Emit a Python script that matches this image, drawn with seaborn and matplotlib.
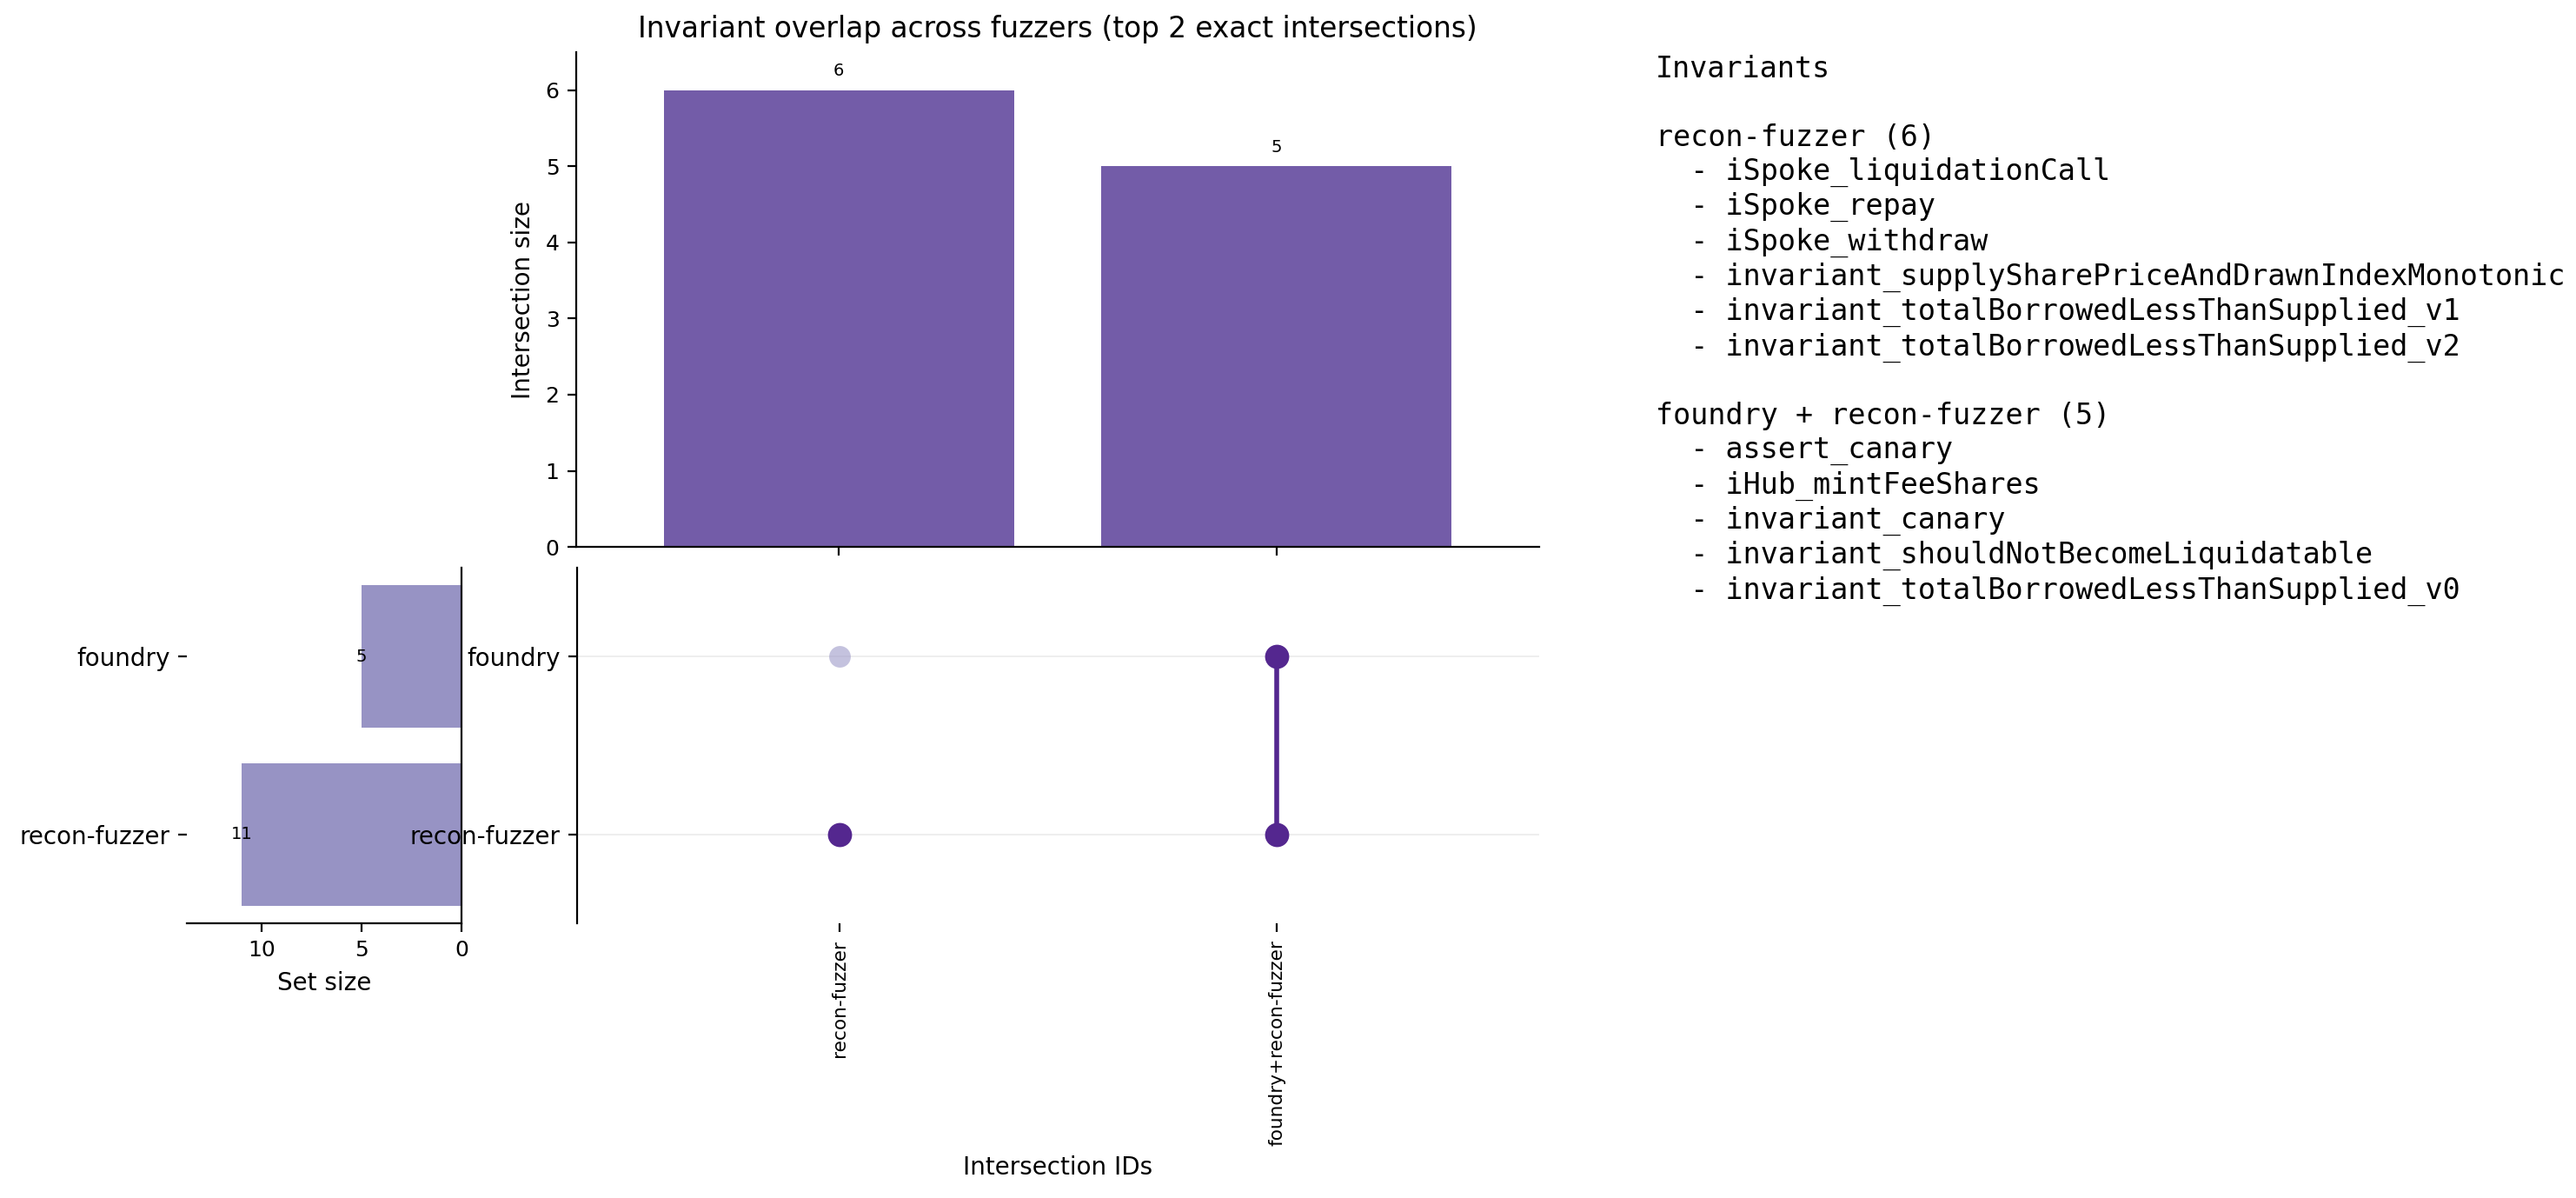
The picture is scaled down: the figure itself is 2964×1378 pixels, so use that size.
import numpy as np
import pandas as pd
import seaborn as sns
import matplotlib.pyplot as plt

# data
set_names = ["foundry", "recon-fuzzer"]
set_sizes = [5, 11]

inter_ids = ["recon-fuzzer", "foundry+recon-fuzzer"]
inter_sizes = [6, 5]
# membership of each intersection (rows follow set_names)
inter_members = [
    [False, True],   # recon-fuzzer only
    [True, True],    # foundry + recon-fuzzer
]

invariants_recon = [
    "iSpoke_liquidationCall",
    "iSpoke_repay",
    "iSpoke_withdraw",
    "invariant_supplySharePriceAndDrawnIndexMonotonic",
    "invariant_totalBorrowedLessThanSupplied_v1",
    "invariant_totalBorrowedLessThanSupplied_v2",
]
invariants_both = [
    "assert_canary",
    "iHub_mintFeeShares",
    "invariant_canary",
    "invariant_shouldNotBecomeLiquidatable",
    "invariant_totalBorrowedLessThanSupplied_v0",
]

bar_color = "#735ca8"
set_color = "#9793c4"
dot_on = "#54278f"
dot_off = "#9e9ac8"

fig = plt.figure(figsize=(14.82, 6.89), dpi=200)
ax_top = fig.add_axes([0.2237, 0.5435, 0.3738, 0.4129])
ax_set = fig.add_axes([0.0725, 0.2293, 0.1066, 0.2968])
ax_mat = fig.add_axes([0.2240, 0.2293, 0.3735, 0.2968])

# intersection size bars
top_df = pd.DataFrame({"id": inter_ids, "size": inter_sizes})
sns.barplot(data=top_df, x="id", y="size", color=bar_color, saturation=1, ax=ax_top)
for c in ax_top.containers:
    ax_top.bar_label(c, labels=[str(v) for v in inter_sizes], padding=4.5, fontsize=7)
ax_top.set_xlim(-0.6, 1.6)
ax_top.set_ylim(0, 6.5)
ax_top.set_xticks(range(len(inter_ids)))
ax_top.set_xticklabels([])
ax_top.set_xlabel("")
ax_top.set_ylabel("Intersection size", fontsize=10)
ax_top.tick_params(axis="y", labelsize=9)
ax_top.set_title("Invariant overlap across fuzzers (top 2 exact intersections)", fontsize=11.8)
sns.despine(ax=ax_top)

# set size bars (horizontal, growing to the left)
set_df = pd.DataFrame({"set": set_names, "size": set_sizes})
sns.barplot(data=set_df, x="size", y="set", orient="h", color=set_color, saturation=1, ax=ax_set)
for i, v in enumerate(set_sizes):
    ax_set.text(v, i, str(v), ha="center", va="center", fontsize=7)
ax_set.set_xlim(max(set_sizes) * 1.25, 0)
ax_set.set_ylim(1.5, -0.5)
ax_set.set_xticks([10, 5, 0])
ax_set.set_xlabel("Set size", fontsize=10)
ax_set.set_ylabel("")
ax_set.tick_params(axis="x", labelsize=9)
ax_set.tick_params(axis="y", labelsize=10)
ax_set.spines["top"].set_visible(False)
ax_set.spines["left"].set_visible(False)
ax_set.yaxis.set_ticks_position("left")

# matrix of dots
rows = []
for j, iid in enumerate(inter_ids):
    for i, s in enumerate(set_names):
        rows.append({"x": j, "y": i, "on": inter_members[j][i]})
mat_df = pd.DataFrame(rows)
off = mat_df[~mat_df["on"]]
on = mat_df[mat_df["on"]]
ax_mat.patch.set_alpha(0)
ax_mat.grid(axis="y", color="#eeeeee", linewidth=0.7)
ax_mat.set_axisbelow(True)
sns.scatterplot(data=off, x="x", y="y", color=dot_off, alpha=0.6, s=80, linewidth=0, ax=ax_mat, zorder=2)
for j in range(len(inter_ids)):
    ys = on[on["x"] == j]["y"]
    if len(ys) > 1:
        ax_mat.plot([j, j], [ys.min(), ys.max()], color=dot_on, linewidth=2, zorder=2)
sns.scatterplot(data=on, x="x", y="y", color=dot_on, s=100, linewidth=0, ax=ax_mat, zorder=3)
ax_mat.set_xlim(-0.6, 1.6)
ax_mat.set_ylim(1.5, -0.5)
ax_mat.set_yticks(range(len(set_names)))
ax_mat.set_yticklabels(set_names, fontsize=10)
ax_mat.set_xticks(range(len(inter_ids)))
ax_mat.set_xticklabels(inter_ids, rotation=90, fontsize=7.8)
ax_mat.set_xlabel("Intersection IDs", fontsize=10)
ax_mat.set_ylabel("")
for side in ["top", "right", "bottom"]:
    ax_mat.spines[side].set_visible(False)

# invariant listing
lines = ["Invariants", "", "recon-fuzzer (%d)" % len(invariants_recon)]
lines += ["  - " + n for n in invariants_recon]
lines += ["", "foundry + recon-fuzzer (%d)" % len(invariants_both)]
lines += ["  - " + n for n in invariants_both]
fig.text(0.6427, 0.954, "\n".join(lines), family="DejaVu Sans Mono", fontsize=12,
         va="top", ha="left", linespacing=1.237)

fig.savefig("out.png", dpi=200)
